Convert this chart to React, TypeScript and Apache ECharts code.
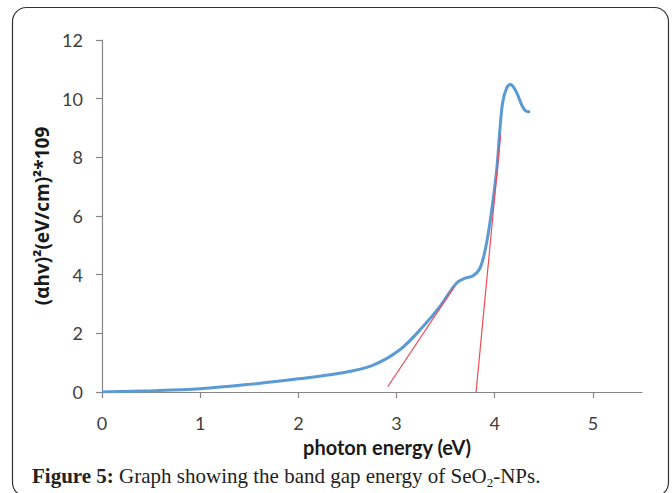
import React, { useEffect, useRef } from "react";
import * as echarts from "echarts";

// Measured curve: photon energy (eV) vs (αhv)^2
const energy = [0, 0.5, 1.0, 1.5, 2.0, 2.42, 2.75, 3.03, 3.27, 3.44, 3.61, 3.7, 3.78, 3.85, 3.91, 3.96, 4.02, 4.05, 4.08, 4.12, 4.16, 4.2, 4.24, 4.28, 4.32, 4.36];
const absorb = [0, 0.04, 0.11, 0.26, 0.45, 0.64, 0.9, 1.43, 2.23, 2.91, 3.71, 3.88, 3.96, 4.22, 4.96, 5.98, 7.58, 8.83, 9.85, 10.35, 10.48, 10.35, 10.08, 9.75, 9.57, 9.55];

// Tangent (extrapolation) lines
const tangent1X = [2.91, 3.59];
const tangent1Y = [0.18, 3.59];
const tangent2X = [3.81, 4.06];
const tangent2Y = [0, 8.77];

const xTicks = [0, 1, 2, 3, 4, 5];
const yTicks = [0, 2, 4, 6, 8, 10, 12];

const xTitle = "photon energy (eV)";
const yTitle = "(αhv)²(eV/cm)²*109";

export default function App() {
  const ref = useRef<HTMLDivElement>(null);
  useEffect(() => {
    if (!ref.current) return;
    const chart = echarts.init(ref.current, null, { renderer: "svg" });
    const axisColor = "#868686";
    const labelColor = "#404040";
    const fontFamily = "Lato, 'Open Sans', sans-serif";
    const serif = "'Liberation Serif', serif";
    chart.setOption({
      animation: false,
      backgroundColor: "#ffffff",
      grid: { left: 102, right: 30, top: 40, bottom: 101 },
      xAxis: {
        type: "value",
        min: 0,
        max: 5.5,
        interval: 1,
        splitLine: { show: false },
        axisLine: { show: true, lineStyle: { color: axisColor, width: 1.2 } },
        axisTick: { show: true, inside: false, length: 6, lineStyle: { color: axisColor, width: 1.2 }, customValues: xTicks },
        axisLabel: { customValues: xTicks, margin: 22, color: labelColor, fontSize: 18, fontFamily },
        name: xTitle,
        nameLocation: "middle",
        nameGap: 41,
        nameTextStyle: { fontSize: 20, fontWeight: "bold", color: "#1a1a1a", fontFamily, padding: [0, 0, 0, 30] },
      },
      yAxis: {
        type: "value",
        min: 0,
        max: 12,
        interval: 2,
        splitLine: { show: false },
        axisLine: { show: true, lineStyle: { color: axisColor, width: 1.2 } },
        axisTick: { show: true, inside: false, length: 6, lineStyle: { color: axisColor, width: 1.2 } },
        axisLabel: { margin: 19, color: labelColor, fontSize: 18, fontFamily, formatter: (v: number) => (yTicks.includes(v) ? String(v) : "") },
        name: yTitle,
        nameLocation: "middle",
        nameGap: 45,
        nameRotate: 90,
        nameTextStyle: { fontSize: 19, fontWeight: "bold", color: "#1a1a1a", fontFamily: "'Open Sans', Lato, sans-serif" },
      },
      series: [
        {
          type: "line",
          data: energy.map((x, i) => [x, absorb[i]]),
          smooth: 0.35,
          symbol: "none",
          lineStyle: { color: "#5B9BD5", width: 3 },
          z: 2,
        },
        {
          type: "line",
          data: tangent1X.map((x, i) => [x, tangent1Y[i]]),
          symbol: "none",
          lineStyle: { color: "#EF4A55", width: 1.2 },
          z: 3,
        },
        {
          type: "line",
          data: tangent2X.map((x, i) => [x, tangent2Y[i]]),
          symbol: "none",
          lineStyle: { color: "#EF4A55", width: 1.2 },
          z: 3,
        },
      ],
      graphic: [
        {
          type: "rect",
          shape: { x: 12.5, y: 7.5, width: 656, height: 489, r: 14 },
          style: { fill: "none", stroke: "#333333", lineWidth: 1.2 },
          silent: true,
        },
        {
          type: "text",
          x: 32,
          y: 476,
          style: {
            text: "{b|Figure 5:}{n| Graph showing the band gap energy of SeO}{s|2}{n|-NPs.}",
            verticalAlign: "middle",
            rich: {
              b: { fontFamily: serif, fontSize: 21, fontWeight: "bold", fill: "#222", lineHeight: 26, verticalAlign: "middle" },
              n: { fontFamily: serif, fontSize: 21, fill: "#222", lineHeight: 26, verticalAlign: "middle" },
              s: { fontFamily: serif, fontSize: 13, fill: "#222", lineHeight: 26, verticalAlign: "bottom" },
            },
          },
        },
      ],
    });
    return () => chart.dispose();
  }, []);
  return <div ref={ref} style={{ position: "absolute", left: 0, top: 0, width: 672, height: 493 }} />;
}
